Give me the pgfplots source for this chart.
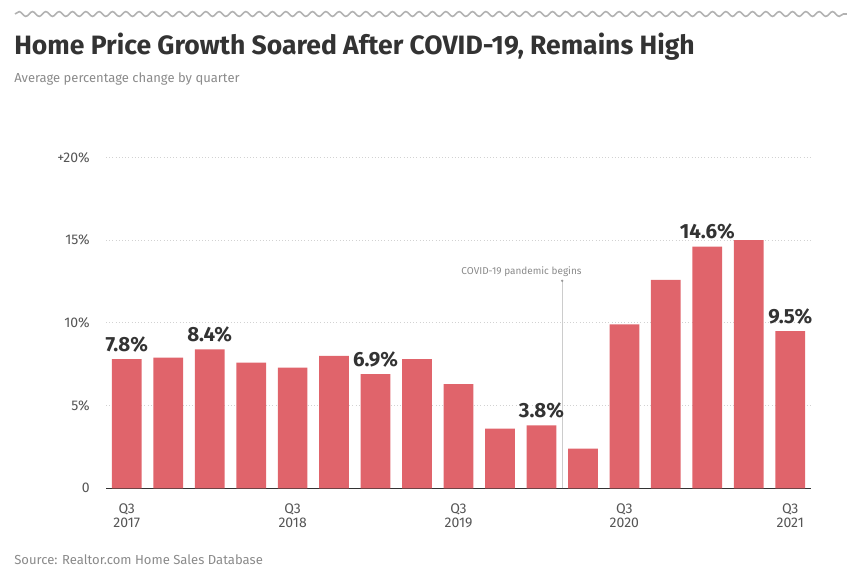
\documentclass[border=0pt]{standalone}
\usepackage{pgfplots}
\pgfplotsset{compat=1.18}
\usepackage{fontspec}
\setmainfont{Fira Sans}
\usetikzlibrary{decorations.pathmorphing}
\definecolor{barred}{HTML}{E0646B}
\definecolor{txtdark}{HTML}{333333}
\definecolor{txtgray}{HTML}{555555}
\definecolor{txtlight}{HTML}{8A8A8A}

\begin{document}
\begin{tikzpicture}[x=0.75pt,y=0.75pt]
% canvas 847 x 581 px, y measured upward
\path[use as bounding box] (0,0) rectangle (847,581);
\draw[gray!60, line width=1.2pt, decorate,
  decoration={snake, amplitude=1.8pt, segment length=10pt}]
  (15,567) -- (847,567);
\node[anchor=base west, inner sep=0pt, text=txtdark,
  font=\fontsize{19.9}{22}\selectfont\bfseries] at (14,526)
  {Home Price Growth Soared After COVID-19, Remains High};
\node[anchor=base west, inner sep=0pt, text=txtlight,
  font=\fontsize{9.75}{11}\selectfont] at (14,498)
  {Average percentage change by quarter};
\node[anchor=base west, inner sep=0pt, text=txtlight,
  font=\fontsize{9.8}{11}\selectfont] at (14,16)
  {Source: Realtor.com Home Sales Database};

\begin{axis}[
  at={(79.5pt,69.5pt)}, anchor=south west,
  scale only axis, width=528.75pt, height=248.25pt,
  xmin=-0.5, xmax=16.5, ymin=0, ymax=20,
  clip=false,
  axis lines*=left,
  y axis line style={draw=none},
  x axis line style={draw=txtdark, line width=1.1pt},
  major tick style={draw=none},
  ytick={0,5,10,15,20},
  yticklabels={0,5\%,10\%,15\%,+20\%},
  xtick={0,4,8,12,16},
  xticklabels={Q3\\2017,Q3\\2018,Q3\\2019,Q3\\2020,Q3\\2021},
  ymajorgrids,
  grid style={gray!35, dotted, line width=0.8pt},
  yticklabel style={inner sep=0pt, xshift=-12pt, text=txtgray,
    font=\fontsize{10.5}{11}\selectfont},
  xticklabel style={align=center, inner sep=0pt, yshift=-11pt, text=txtgray,
    font=\fontsize{10.5}{10.5}\selectfont},
]
\addplot[ybar, bar width=22.3pt, fill=barred, draw=none] coordinates {
  (0,7.8) (1,7.9) (2,8.4) (3,7.6) (4,7.3) (5,8.0) (6,6.9) (7,7.8)
  (8,6.3) (9,3.6) (10,3.8) (11,2.4) (12,9.9) (13,12.6) (14,14.6)
  (15,15.0) (16,9.5)
};
\addplot[draw=none, mark=none, nodes near coords,
  point meta=explicit symbolic,
  every node near coord/.style={anchor=south, inner sep=0pt, yshift=5pt,
    text=txtdark, font=\fontsize{15.4}{17}\selectfont\bfseries}]
  coordinates {
  (0,7.8) [7.8\%] (2,8.4) [8.4\%] (6,6.9) [6.9\%] (10,3.8) [3.8\%]
  (14,14.6) [14.6\%] (16,9.5) [9.5\%]
};
\draw[gray!40, line width=0.6pt] (axis cs:10.5,0) -- (axis cs:10.5,12.54);
\fill[gray!80] (axis cs:10.5,12.54) circle (1pt);
\node[anchor=base, inner sep=0pt, text=txtlight,
  font=\fontsize{7.5}{9}\selectfont] at (axis cs:9.52,12.95)
  {COVID-19 pandemic begins};
\end{axis}
\end{tikzpicture}
\end{document}
